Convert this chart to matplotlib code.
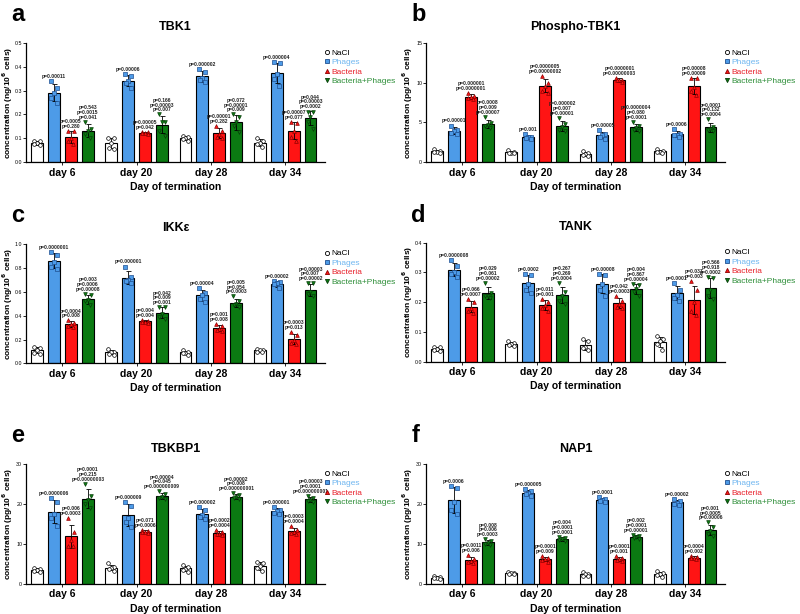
import numpy as np
import matplotlib
matplotlib.use('Agg')
import matplotlib.pyplot as plt
from matplotlib.lines import Line2D

plt.rcParams['font.family'] = ['Liberation Sans', 'DejaVu Sans']

days = ['day 6', 'day 20', 'day 28', 'day 34']
groups = ['NaCl', 'Phages', 'Bacteria', 'Bacteria+Phages']

# individual values: [day][group][replicate]
tbk1 = [
    [[0.09, 0.088, 0.082, 0.078, 0.07], [0.34, 0.31, 0.29, 0.27, 0.25], [0.13, 0.13, 0.10, 0.09, 0.075], [0.17, 0.14, 0.13, 0.12, 0.10]],
    [[0.10, 0.10, 0.08, 0.06, 0.055], [0.37, 0.36, 0.34, 0.33, 0.31], [0.128, 0.125, 0.124, 0.122, 0.12], [0.20, 0.17, 0.17, 0.13, 0.11]],
    [[0.11, 0.105, 0.10, 0.095, 0.09], [0.39, 0.38, 0.355, 0.345, 0.335], [0.15, 0.13, 0.12, 0.105, 0.10], [0.20, 0.19, 0.17, 0.15, 0.125]],
    [[0.10, 0.09, 0.08, 0.075, 0.065], [0.42, 0.415, 0.37, 0.35, 0.32], [0.17, 0.165, 0.13, 0.105, 0.09], [0.21, 0.21, 0.19, 0.17, 0.14]],
]
phospho_tbk1 = [
    [[1.6, 1.45, 1.3, 1.25, 1.1], [4.6, 4.1, 3.9, 3.7, 3.55], [8.7, 8.3, 8.2, 8.1, 7.9], [5.7, 4.9, 4.7, 4.5, 4.3]],
    [[1.5, 1.3, 1.2, 1.15, 1.1], [3.5, 3.2, 3.1, 3.0, 2.9], [10.8, 10.0, 9.6, 9.0, 8.7], [5.6, 4.8, 4.4, 4.1, 3.9]],
    [[1.35, 1.2, 1.0, 0.9, 0.8], [4.0, 3.6, 3.4, 3.2, 2.95], [10.6, 10.4, 10.3, 10.3, 10.05], [5.1, 4.5, 4.3, 4.1, 3.95]],
    [[1.6, 1.4, 1.3, 1.25, 1.15], [4.2, 3.6, 3.45, 3.35, 3.2], [10.6, 10.6, 9.4, 8.9, 8.4], [5.4, 4.4, 4.2, 4.0, 3.95]],
]
ikke = [
    [[0.14, 0.13, 0.11, 0.09, 0.08], [0.93, 0.91, 0.85, 0.81, 0.79], [0.36, 0.34, 0.33, 0.31, 0.305], [0.58, 0.57, 0.53, 0.52, 0.49]],
    [[0.12, 0.10, 0.095, 0.08, 0.075], [0.81, 0.72, 0.70, 0.69, 0.67], [0.365, 0.355, 0.35, 0.345, 0.34], [0.47, 0.47, 0.41, 0.39, 0.37]],
    [[0.11, 0.10, 0.09, 0.085, 0.075], [0.63, 0.59, 0.57, 0.54, 0.51], [0.33, 0.31, 0.29, 0.28, 0.27], [0.56, 0.52, 0.50, 0.49, 0.47]],
    [[0.125, 0.115, 0.11, 0.10, 0.095], [0.69, 0.68, 0.67, 0.66, 0.63], [0.26, 0.24, 0.20, 0.17, 0.16], [0.67, 0.67, 0.60, 0.58, 0.56]],
]
tank = [
    [[0.05, 0.048, 0.043, 0.038, 0.036], [0.34, 0.32, 0.30, 0.295, 0.285], [0.21, 0.20, 0.18, 0.17, 0.165], [0.265, 0.23, 0.22, 0.22, 0.215]],
    [[0.068, 0.062, 0.058, 0.055, 0.052], [0.295, 0.29, 0.26, 0.24, 0.23], [0.21, 0.20, 0.19, 0.18, 0.17], [0.265, 0.235, 0.22, 0.205, 0.195]],
    [[0.075, 0.07, 0.05, 0.045, 0.04], [0.295, 0.29, 0.26, 0.24, 0.22], [0.22, 0.205, 0.195, 0.185, 0.18], [0.262, 0.258, 0.245, 0.235, 0.22]],
    [[0.085, 0.075, 0.07, 0.06, 0.04], [0.265, 0.24, 0.225, 0.215, 0.205], [0.27, 0.24, 0.20, 0.17, 0.155], [0.285, 0.28, 0.24, 0.22, 0.21]],
]
tbkbp1 = [
    [[4.0, 3.8, 3.5, 3.2, 3.0], [21.5, 20.5, 17.5, 16.5, 14.5], [16.5, 13.0, 11.0, 9.5, 9.5], [25.0, 22.0, 21.0, 20.0, 19.0]],
    [[5.2, 4.2, 4.0, 3.8, 3.3], [20.5, 19.5, 16.5, 15.5, 14.2], [13.6, 13.2, 13.0, 12.9, 12.8], [23.2, 22.5, 21.9, 21.6, 21.3]],
    [[4.8, 4.3, 3.8, 3.5, 3.1], [19.3, 18.5, 17.2, 16.8, 16.2], [13.6, 13.0, 12.6, 12.4, 12.15], [22.7, 22.2, 21.8, 21.6, 21.2]],
    [[5.6, 5.2, 4.4, 4.0, 3.3], [19.2, 18.5, 18.3, 17.8, 17.4], [14.5, 13.5, 13.0, 12.8, 12.45], [22.0, 21.5, 21.1, 20.9, 20.5]],
]
nap1 = [
    [[2.0, 1.8, 1.6, 1.4, 1.2], [24.5, 24.0, 20.5, 18.5, 17.5], [7.2, 6.2, 5.8, 5.6, 5.2], [11.2, 10.7, 10.3, 10.0, 9.8]],
    [[3.0, 2.8, 2.7, 2.6, 2.4], [23.8, 23.2, 22.8, 22.6, 22.1], [7.0, 6.6, 6.2, 5.9, 5.55], [11.8, 11.5, 11.2, 11.0, 10.75]],
    [[3.0, 2.6, 2.4, 2.1, 1.9], [21.8, 21.4, 21.0, 20.8, 20.5], [7.0, 6.5, 6.2, 5.9, 5.65], [12.3, 12.0, 11.8, 11.6, 11.3]],
    [[3.2, 2.8, 2.5, 2.2, 1.8], [21.2, 20.7, 20.3, 20.0, 19.8], [7.0, 6.7, 6.6, 6.4, 6.3], [15.4, 14.2, 13.2, 12.6, 12.1]],
]

# p-values above Phages / Bacteria / Bacteria+Phages, per day
p_tbk1 = [
    ['p=0.00011', 'p=0.0005\np=0.280', 'p=0.543\np=0.0015\np=0.041'],
    ['p=0.00006', 'p=0.00005\np=0.042', 'p=0.166\np=0.00003\np=0.007'],
    ['p=0.000002', 'p=0.00001\np=0.282', 'p=0.072\np=0.00001\np=0.009'],
    ['p=0.000004', 'p=0.00007\np=0.077', 'p=0.044\np=0.00003\np=0.0002'],
]
p_phospho = [
    ['p=0.00001', 'p=0.000001\np=0.0000001', 'p=0.0008\np=0.009\np=0.00007'],
    ['p=0.001', 'p=0.0000005\np=0.00000002', 'p=0.000002\np=0.007\np=0.00001'],
    ['p=0.00005', 'p=0.0000001\np=0.00000003', 'p=0.0000004\np=0.080\np=0.0001'],
    ['p=0.0006', 'p=0.00008\np=0.00009', 'p=0.0001\np=0.132\np=0.0004'],
]
p_ikke = [
    ['p=0.0000001', 'p=0.0004\np=0.008', 'p=0.003\np=0.0006\np=0.00008'],
    ['p=0.000001', 'p=0.004\np=0.004', 'p=0.042\np=0.009\np=0.001'],
    ['p=0.00004', 'p=0.001\np=0.008', 'p=0.005\np=0.054\np=0.0003'],
    ['p=0.00002', 'p=0.0003\np=0.013', 'p=0.00003\np=0.007\np=0.00002'],
]
p_tank = [
    ['p=0.0000008', 'p=0.066\np=0.0007', 'p=0.029\np=0.061\np=0.00002'],
    ['p=0.0002', 'p=0.011\np=0.001', 'p=0.267\np=0.269\np=0.0004'],
    ['p=0.00008', 'p=0.042\np=0.0003', 'p=0.004\np=0.867\np=0.00004'],
    ['p=0.0001', 'p=0.031\np=0.003', 'p=0.566\np=0.918\np=0.0002'],
]
p_tbkbp1 = [
    ['p=0.0000006', 'p=0.006\np=0.0003', 'p=0.0001\np=0.215\np=0.00000003'],
    ['p=0.000009', 'p=0.071\np=0.0006', 'p=0.00004\np=0.045\np=0.000000009'],
    ['p=0.000002', 'p=0.0002\np=0.0004', 'p=0.00002\np=0.008\np=0.000000001'],
    ['p=0.000001', 'p=0.0003\np=0.0004', 'p=0.00003\np=0.0001\np=0.000000001'],
]
p_nap1 = [
    ['p=0.0006', 'p=0.0011\np=0.006', 'p=0.008\np=0.006\np=0.0003'],
    ['p=0.000005', 'p=0.0001\np=0.009', 'p=0.004\np=0.0001\np=0.0001'],
    ['p=0.0001', 'p=0.0001\np=0.001', 'p=0.002\np=0.0001\np=0.00001'],
    ['p=0.00002', 'p=0.0004\np=0.002', 'p=0.001\np=0.0005\np=0.00006'],
]

bar_colors = ['white', '#4d9be8', '#ff1414', '#0b7a12']
edge_colors = ['black', '#1f4f8f', '#8b0000', '#063d08']
text_colors = ['black', '#6fb6f0', '#e8202a', '#2f8f3a']
markers = ['o', 's', '^', 'v']

panels = [
    # letter, title, unit, data, pvals, ymax, ystep, fmt, axes rect
    ('a', 'TBK1', 'ng', tbk1, p_tbk1, 0.5, 0.1, '{:.1f}', [0.0325, 0.736, 0.374, 0.194]),
    ('b', 'Phospho-TBK1', 'pg', phospho_tbk1, p_phospho, 15, 5, '{:.0f}', [0.5325, 0.736, 0.374, 0.194]),
    ('c', 'IKK\u03b5', 'ng', ikke, p_ikke, 1.0, 0.2, '{:.1f}', [0.0325, 0.408, 0.374, 0.195]),
    ('d', 'TANK', 'ng', tank, p_tank, 0.4, 0.1, '{:.1f}', [0.5325, 0.411, 0.374, 0.194]),
    ('e', 'TBKBP1', 'pg', tbkbp1, p_tbkbp1, 30, 10, '{:.0f}', [0.0325, 0.049, 0.374, 0.195]),
    ('f', 'NAP1', 'pg', nap1, p_nap1, 30, 10, '{:.0f}', [0.5325, 0.049, 0.374, 0.195]),
]
letter_pos = {'a': (0.014, 0.995), 'b': (0.514, 0.995), 'c': (0.014, 0.668),
              'd': (0.514, 0.668), 'e': (0.014, 0.31), 'f': (0.514, 0.31)}

step = 0.228
width = 0.16
jitter = [-0.04, 0.04, 0.0, -0.035, 0.035]

fig = plt.figure(figsize=(8, 6.14), dpi=100)

for letter, title, unit, data, pvals, ymax, ystep, fmt, rect in panels:
    ax = fig.add_axes(rect)
    vals = np.array(data)
    means = vals.mean(axis=2)
    sds = vals.std(axis=2, ddof=1)
    centers = np.arange(len(days))
    for g in range(len(groups)):
        x = centers + (g - 1.5) * step
        ax.bar(x, means[:, g], width, color=bar_colors[g], edgecolor='black', linewidth=0.8, zorder=1)
        ax.errorbar(x, means[:, g], yerr=sds[:, g], fmt='none', ecolor='black', elinewidth=0.6,
                    capsize=1.8, capthick=0.6, zorder=2)
        for d in range(len(days)):
            ax.scatter(x[d] + np.array(jitter), vals[d, g], s=7, marker=markers[g],
                       facecolor=bar_colors[g] if g else 'white', edgecolor=edge_colors[g],
                       linewidths=0.5, zorder=3)
            if g > 0:
                top = max(vals[d, g].max(), means[d, g] + sds[d, g])
                ax.annotate(pvals[d][g - 1], (x[d], top), xytext=(0, 1.5), textcoords='offset points',
                            ha='center', va='bottom', fontsize=3.6, fontweight='bold',
                            linespacing=0.95, color='#222222')

    ax.set_xlim(-0.49, 3.54)
    ax.set_ylim(0, ymax)
    yt = np.arange(0, ymax + ystep / 2, ystep)
    ax.set_yticks(yt)
    ax.set_yticklabels([fmt.format(v) for v in yt], fontsize=3.8)
    ax.set_xticks(centers)
    ax.set_xticklabels(days, fontsize=7.5, fontweight='bold')
    ax.tick_params(axis='y', length=2, width=0.6, pad=0.8)
    ax.tick_params(axis='x', length=2, width=0.6, pad=2)
    for s in ['top', 'right']:
        ax.spines[s].set_visible(False)
    for s in ['left', 'bottom']:
        ax.spines[s].set_linewidth(0.9)
    ax.set_xlabel('Day of termination', fontsize=7.5, fontweight='bold', labelpad=3)
    ax.set_ylabel('concentration (%s/10$^{\\mathbf{6}}$ cells)' % unit, fontsize=6.0, fontweight='bold')
    ax.yaxis.set_label_coords(-0.036, 0.5)
    ax.set_title(title, fontsize=9, fontweight='bold', pad=9)

    handles = [Line2D([], [], linestyle='none', marker=markers[g], markersize=3,
                      markerfacecolor=bar_colors[g], markeredgecolor=edge_colors[g], markeredgewidth=0.6)
               for g in range(len(groups))]
    leg = ax.legend(handles, groups, loc='upper left', bbox_to_anchor=(0.995, 0.965), frameon=False,
                    fontsize=6.0, handlelength=0.5, handletextpad=0.25, labelspacing=0.2, borderaxespad=0.0,
                    borderpad=0.2)
    for t, c in zip(leg.get_texts(), text_colors):
        t.set_color(c)

    lx, ly = letter_pos[letter]
    fig.text(lx, ly, letter, fontsize=17, fontweight='bold', va='top', ha='left')

fig.savefig('out.png', dpi=100)
